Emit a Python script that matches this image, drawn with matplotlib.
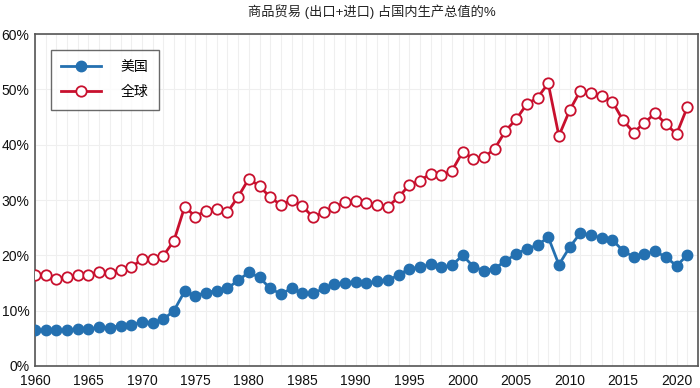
import matplotlib
matplotlib.use("Agg")
import matplotlib.pyplot as plt
from matplotlib.ticker import FuncFormatter, MultipleLocator

plt.rcParams['font.family'] = ['Liberation Sans', 'Noto Sans CJK SC', 'DejaVu Sans']

years = list(range(1960, 2022))

# 美国 (US) goods trade, % of GDP
us = [6.5, 6.4, 6.4, 6.4, 6.6, 6.6, 7.0, 6.9, 7.3, 7.4,
      7.9, 7.8, 8.4, 10.0, 13.5, 12.7, 13.25, 13.6, 14.0, 15.5,
      16.9, 16.0, 14.0, 13.0, 14.0, 13.1, 13.1, 14.0, 14.8, 15.05,
      15.2, 14.95, 15.3, 15.5, 16.4, 17.6, 17.8, 18.4, 17.8, 18.2,
      20.0, 17.95, 17.2, 17.6, 19.0, 20.2, 21.2, 21.8, 23.3, 18.3,
      21.45, 24.0, 23.7, 23.1, 22.8, 20.8, 19.7, 20.2, 20.7, 19.7,
      18.1, 20.0]

# 全球 (world)
world = [16.5, 16.4, 15.8, 16.0, 16.4, 16.4, 17.0, 16.8, 17.35, 17.8,
         19.3, 19.3, 19.9, 22.65, 28.8, 27.0, 28.1, 28.3, 27.8, 30.6,
         33.85, 32.5, 30.5, 29.1, 30.0, 28.9, 26.9, 27.8, 28.7, 29.6,
         29.9, 29.4, 29.15, 28.8, 30.5, 32.7, 33.5, 34.75, 34.45, 35.3,
         38.7, 37.5, 37.7, 39.3, 42.5, 44.6, 47.35, 48.5, 51.1, 41.6,
         46.2, 49.75, 49.3, 48.85, 47.8, 44.4, 42.2, 44.0, 45.65, 43.8,
         41.9, 46.75]

labels = ['美国', '全球']
title = '商品贸易 (出口+进口) 占国内生产总值的%'

blue = '#2470b0'
red = '#c8102e'

fig = plt.figure(figsize=(7, 3.88), dpi=100)
ax = fig.add_axes([0.05, 0.057, 0.947, 0.855])

ax.plot(years, us, color=blue, lw=2, marker='o', ms=7.5,
        mfc=blue, mec=blue, label=labels[0], zorder=3)
ax.plot(years, world, color=red, lw=2, marker='o', ms=7.5,
        mfc='white', mec=red, mew=1.3, label=labels[1], zorder=3)

ax.set_xlim(1960, 2022)
ax.set_ylim(0, 60)
ax.xaxis.set_major_locator(MultipleLocator(5))
ax.xaxis.set_minor_locator(MultipleLocator(1))
ax.yaxis.set_major_locator(MultipleLocator(10))
ax.yaxis.set_major_formatter(FuncFormatter(lambda v, p: f'{v:.0f}%'))

ax.grid(True, which='both', axis='x', color='#efefef', lw=0.8)
ax.grid(True, which='major', axis='y', color='#efefef', lw=0.8)
ax.set_axisbelow(True)
ax.tick_params(which='both', length=0, labelsize=10, colors='#111111')
ax.tick_params(axis='x', pad=6)
ax.tick_params(axis='y', pad=4)

for s in ax.spines.values():
    s.set_color('#555555')
    s.set_linewidth(1.2)

fig.text(0.531, 0.97, title, ha='center', va='center', fontsize=9.5, color='#222222')

leg = ax.legend(loc='upper left', bbox_to_anchor=(0.0235, 0.953), fancybox=False,
                edgecolor='#444444', fontsize=10, handlelength=2.9,
                handletextpad=1.4, labelspacing=0.8, borderpad=0.75,
                borderaxespad=0)
leg.get_frame().set_linewidth(1.0)

fig.savefig('out.png', dpi=100)
